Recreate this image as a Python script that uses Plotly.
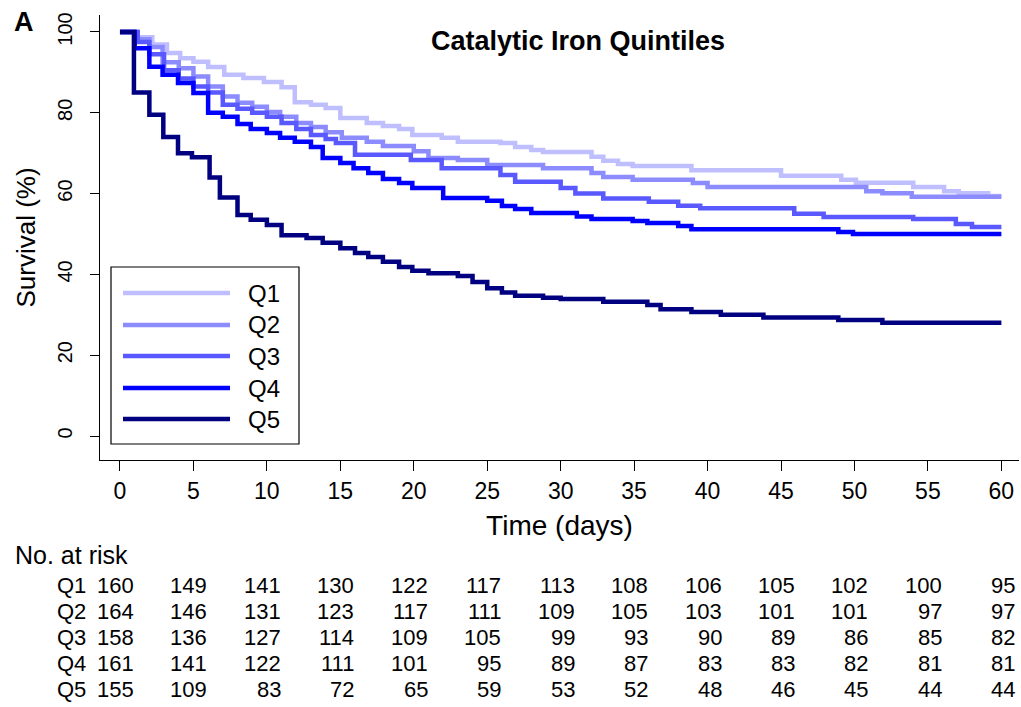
import plotly.graph_objects as go

# ---------------- data ----------------
groups = ["Q1", "Q2", "Q3", "Q4", "Q5"]
colors = ["#BFBFFF", "#8C8CFF", "#5959FF", "#0000FF", "#000080"]

q1_t = [0, 1.2, 2.2, 3.2, 4.1, 5.0, 6.0, 7.1, 8.4, 9.8, 11.0, 11.9, 13.0, 14.0, 15.0, 16.8, 17.9, 19.0, 19.9,
        21.9, 23.0, 25.9, 26.9, 28.0, 28.8, 32.1, 32.9, 33.9, 34.9, 38.9, 45.0, 49.1, 50.1, 54.0, 56.1, 57.1, 59.1]
q1_s = [100, 98.7, 96.9, 94.8, 93.5, 92.6, 91.3, 89.4, 88.6, 87.6, 86.3, 82.6, 82.0, 81.2, 78.7, 77.5, 76.7, 76.0, 74.5,
        73.8, 72.8, 72.5, 71.5, 70.8, 70.3, 69.1, 68.1, 67.3, 66.8, 65.8, 64.4, 63.4, 62.7, 61.6, 60.6, 60.1, 59.4]

q2_t = [0, 1.2, 2.0, 2.9, 4.0, 5.0, 6.0, 7.0, 8.0, 9.0, 10.0, 10.9, 12.0, 13.0, 14.0, 15.1, 16.8, 17.9, 20.0,
        21.0, 23.0, 25.0, 28.8, 32.1, 32.9, 34.9, 39.0, 40.0, 50.8, 51.9, 53.9]
q2_s = [100, 98.2, 96.3, 92.5, 91.0, 89.0, 86.5, 84.0, 82.5, 81.5, 80.2, 79.0, 77.5, 76.5, 75.2, 73.8, 72.8, 71.8, 70.5,
        68.8, 68.3, 67.1, 66.3, 65.1, 64.1, 63.4, 62.6, 61.6, 60.6, 60.1, 59.2]

q3_t = [0, 1.2, 2.0, 3.0, 4.0, 5.0, 6.0, 7.0, 8.0, 9.0, 10.0, 11.0, 12.0, 13.0, 14.0, 14.7, 16.0, 19.8, 21.9,
        25.9, 26.9, 30.0, 31.0, 32.9, 36.0, 38.0, 39.5, 45.9, 47.9, 54.0, 56.9, 58.0]
q3_s = [100, 97.5, 94.5, 90.5, 88.5, 86.5, 85.0, 82.0, 81.0, 80.0, 79.0, 77.5, 76.0, 74.5, 73.5, 72.5, 69.6, 68.3, 66.3,
        64.6, 62.9, 61.4, 60.0, 58.8, 58.0, 57.0, 56.4, 55.0, 54.2, 53.7, 52.5, 51.7]

q4_t = [0, 1.0, 2.0, 2.9, 3.95, 5.0, 6.0, 7.0, 8.0, 8.9, 10.0, 10.9, 11.9, 13.0, 13.8, 15.0, 15.9, 16.9, 17.9,
        19.0, 19.9, 22.0, 25.0, 26.0, 26.9, 28.0, 31.1, 32.1, 34.9, 35.9, 38.0, 38.9, 48.9, 49.9]
q4_s = [100, 96.0, 91.4, 89.4, 87.4, 84.9, 80.0, 79.0, 77.2, 76.0, 75.0, 73.8, 72.8, 71.5, 68.8, 67.6, 66.3, 65.1, 63.6,
        62.6, 61.4, 58.9, 58.2, 56.9, 56.2, 55.2, 54.3, 53.7, 53.2, 52.7, 52.0, 51.2, 50.5, 50.0]

q5_t = [0, 0.95, 2.0, 2.95, 3.95, 4.9, 6.1, 6.8, 8.0, 8.9, 10.0, 11.0, 12.7, 13.8, 15.0, 16.0, 16.9, 17.9, 19.0,
        19.9, 21.0, 23.0, 24.0, 25.0, 26.0, 26.9, 28.8, 30.0, 32.9, 35.9, 36.8, 38.9, 40.9, 43.8, 48.9, 51.9]
q5_s = [100, 85.0, 79.5, 74.0, 70.0, 69.0, 64.0, 59.0, 54.7, 53.5, 52.2, 49.7, 49.0, 47.8, 46.5, 45.3, 44.3, 43.1, 41.8,
        40.9, 40.3, 39.6, 38.1, 36.6, 35.5, 34.7, 34.2, 33.9, 33.2, 32.4, 31.4, 30.7, 30.0, 29.3, 28.7, 28.0]

end_time = 60

risk_times = [0, 5, 10, 15, 20, 25, 30, 35, 40, 45, 50, 55, 60]
risk_q1 = [160, 149, 141, 130, 122, 117, 113, 108, 106, 105, 102, 100, 95]
risk_q2 = [164, 146, 131, 123, 117, 111, 109, 105, 103, 101, 101, 97, 97]
risk_q3 = [158, 136, 127, 114, 109, 105, 99, 93, 90, 89, 86, 85, 82]
risk_q4 = [161, 141, 122, 111, 101, 95, 89, 87, 83, 83, 82, 81, 81]
risk_q5 = [155, 109, 83, 72, 65, 59, 53, 52, 48, 46, 45, 44, 44]

series_t = [q1_t, q2_t, q3_t, q4_t, q5_t]
series_s = [q1_s, q2_s, q3_s, q4_s, q5_s]
risk_rows = [risk_q1, risk_q2, risk_q3, risk_q4, risk_q5]

# ---------------- layout geometry (pixels) ----------------
W, H = 1021, 707
L, R, T, B = 100, 2, 15, 247
plot_w = W - L - R
plot_h = H - T - B
FONT = "Arial, Liberation Sans, sans-serif"


def px_to_paper_x(px):
    return (px - L) / plot_w


def px_to_paper_y(py):
    return (H - B - py) / plot_h


fig = go.Figure()

for name, col, tt, ss in zip(groups, colors, series_t, series_s):
    fig.add_trace(go.Scatter(
        x=tt + [end_time], y=ss + [ss[-1]],
        mode="lines", line=dict(color=col, width=4.5, shape="hv"),
        name=name, showlegend=False, hoverinfo="x+y+name"))

shapes = []
annotations = []

# custom legend (long line samples like the original)
shapes.append(dict(type="rect", xref="paper", yref="paper",
                   x0=px_to_paper_x(111), x1=px_to_paper_x(299),
                   y0=px_to_paper_y(444), y1=px_to_paper_y(267),
                   line=dict(color="black", width=1.2), fillcolor="white", layer="above"))
leg_y = [293, 325, 356, 388, 419]
for name, col, ly in zip(groups, colors, leg_y):
    shapes.append(dict(type="line", xref="paper", yref="paper",
                       x0=px_to_paper_x(123), x1=px_to_paper_x(230),
                       y0=px_to_paper_y(ly), y1=px_to_paper_y(ly),
                       line=dict(color=col, width=4.5), layer="above"))
    annotations.append(dict(text=name, xref="paper", yref="paper",
                            x=px_to_paper_x(246), y=px_to_paper_y(ly),
                            xanchor="left", yanchor="middle", showarrow=False,
                            font=dict(family=FONT, size=24, color="black")))

# number at risk table
annotations.append(dict(text="No. at risk", xref="paper", yref="paper",
                        x=px_to_paper_x(13), y=px_to_paper_y(555),
                        xanchor="left", yanchor="middle", showarrow=False,
                        font=dict(family=FONT, size=25, color="black")))
row_y = [585, 611, 637, 663, 689]
for name, row, ry in zip(groups, risk_rows, row_y):
    annotations.append(dict(text=name, xref="paper", yref="paper",
                            x=px_to_paper_x(55), y=px_to_paper_y(ry),
                            xanchor="left", yanchor="middle", showarrow=False,
                            font=dict(family=FONT, size=22, color="black")))
    for tval, n in zip(risk_times, row):
        annotations.append(dict(text=str(n), xref="x", yref="paper",
                                x=tval, y=px_to_paper_y(ry), xshift=16,
                                xanchor="right", yanchor="middle", showarrow=False,
                                font=dict(family=FONT, size=22, color="black")))

# panel letter and title
annotations.append(dict(text="<b>A</b>", xref="paper", yref="paper",
                        x=px_to_paper_x(12), y=px_to_paper_y(22),
                        xanchor="left", yanchor="middle", showarrow=False,
                        font=dict(family=FONT, size=27, color="black")))
annotations.append(dict(text="<b>Catalytic Iron Quintiles</b>", xref="paper", yref="paper",
                        x=px_to_paper_x(578), y=px_to_paper_y(41),
                        xanchor="center", yanchor="middle", showarrow=False,
                        font=dict(family=FONT, size=27, color="black")))

fig.update_layout(
    width=W, height=H,
    margin=dict(l=L, r=R, t=T, b=B, autoexpand=False),
    paper_bgcolor="white", plot_bgcolor="white",
    font=dict(family=FONT, color="black"),
    showlegend=False,
    shapes=shapes, annotations=annotations,
    xaxis=dict(range=[-1.36, 61.2], tickmode="array", tickvals=risk_times,
               ticks="outside", ticklen=10, tickwidth=1.2, tickcolor="black",
               showline=True, linecolor="black", linewidth=1.2,
               showgrid=False, zeroline=False, automargin=False,
               tickfont=dict(family=FONT, size=23),
               title=dict(text="Time (days)", font=dict(family=FONT, size=28), standoff=12)),
    yaxis=dict(range=[-5.94, 104.2], tickmode="array", tickvals=[0, 20, 40, 60, 80, 100],
               ticks="outside", ticklen=9, tickwidth=1.2, tickcolor="black", tickangle=-90,
               ticklabelstandoff=10,
               showline=True, linecolor="black", linewidth=1.2,
               showgrid=False, zeroline=False, automargin=False,
               tickfont=dict(family=FONT, size=20),
               title=dict(text="Survival (%)", font=dict(family=FONT, size=26), standoff=10)),
)

fig.write_html("out.html", config={"displayModeBar": False},
               post_script="document.body.style.margin='0';document.body.style.overflow='hidden';")
